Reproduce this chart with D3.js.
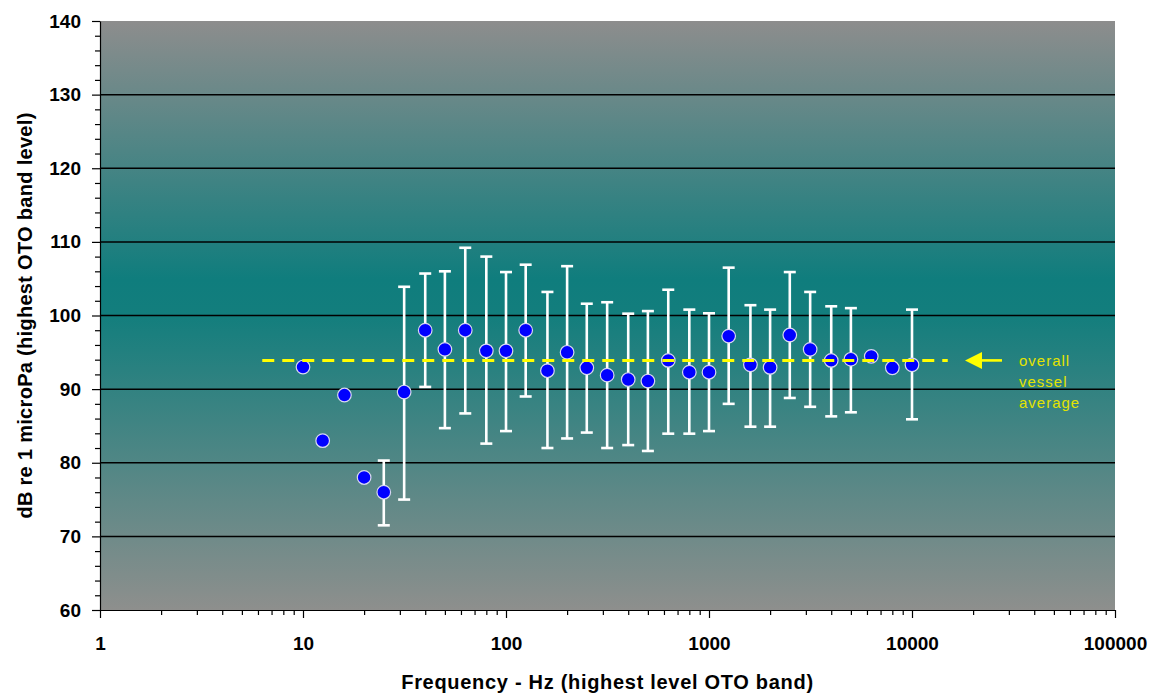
<!DOCTYPE html>
<html>
<head>
<meta charset="utf-8">
<script src="https://cdn.jsdelivr.net/npm/d3@7"></script>
<style>
  html, body { margin: 0; padding: 0; background: #fff; }
  svg { display: block; }
  text { font-family: Arial, "Liberation Sans", sans-serif; }
</style>
</head>
<body>
<svg id="chart" width="1153" height="697"></svg>
<script>
// ---- data ----
const frequencies = [10, 12.5, 16, 20, 25, 31.5, 40, 50, 63, 80, 100, 125, 160, 200, 250, 315, 400, 500, 630, 800, 1000, 1250, 1600, 2000, 2500, 3150, 4000, 5000, 6300, 8000, 10000];
const meanLevels  = [93.0, 83.0, 89.2, 78.0, 76.0, 89.6, 98.0, 95.4, 98.0, 95.2, 95.2, 98.0, 92.5, 95.0, 92.9, 91.9, 91.3, 91.1, 93.9, 92.3, 92.3, 97.2, 93.3, 92.95, 97.35, 95.4, 93.9, 94.05, 94.45, 92.9, 93.3];
const upperLevels = [null, null, null, null, 80.3, 103.9, 105.7, 106.0, 109.2, 108.0, 105.9, 106.9, 103.2, 106.7, 101.6, 101.8, 100.25, 100.6, 103.5, 100.8, 100.3, 106.5, 101.4, 100.8, 105.9, 103.2, 101.25, 101.0, null, null, 100.8];
const lowerLevels = [null, null, null, null, 71.5, 75.0, 90.3, 84.7, 86.7, 82.6, 84.3, 89.0, 82.0, 83.3, 84.1, 82.0, 82.4, 81.6, 83.95, 83.95, 84.3, 88.0, 84.9, 84.9, 88.8, 87.6, 86.3, 86.85, null, null, 85.9];
const averageLevel = 93.9;
const averageRange = [6.3, 15000];
const xTickLabels = ["1", "10", "100", "1000", "10000", "100000"];
const yTickValues = [60, 70, 80, 90, 100, 110, 120, 130, 140];
const annotationLines = ["overall", "vessel", "average"];
const xTitle = "Frequency - Hz (highest level OTO band)";
const yTitle = "dB re 1 microPa (highest OTO band level)";

// ---- layout ----
const svg = d3.select("#chart");
const L = 100, R = 1115, T = 21, B = 610;
const x = d3.scaleLog().domain([1, 100000]).range([L, R]);
const y = d3.scaleLinear().domain([60, 140]).range([B, T]);

// gradient background
const defs = svg.append("defs");
const grad = defs.append("linearGradient").attr("id", "bg").attr("x1", 0).attr("y1", 0).attr("x2", 0).attr("y2", 1);
grad.append("stop").attr("offset", "0%").attr("stop-color", "#8d8d8d");
grad.append("stop").attr("offset", "44%").attr("stop-color", "#0f7d7d");
grad.append("stop").attr("offset", "50%").attr("stop-color", "#137e7d");
grad.append("stop").attr("offset", "100%").attr("stop-color", "#8e8f8d");

svg.append("rect").attr("x", L).attr("y", T).attr("width", R - L).attr("height", B - T).attr("fill", "url(#bg)");

// gridlines
svg.append("g").selectAll("line").data(yTickValues.filter(v => v > 60 && v < 140)).join("line")
  .attr("x1", L).attr("x2", R).attr("y1", d => y(d)).attr("y2", d => y(d))
  .attr("stroke", "#000").attr("stroke-width", 1.5);

// axes
const minorX = [];
for (let e = 0; e < 5; e++) for (let m = 2; m <= 9; m++) minorX.push(m * Math.pow(10, e));
const majorX = xTickLabels.map(Number);

svg.append("g").attr("transform", `translate(0,${B})`)
  .call(d3.axisBottom(x).tickValues(minorX).tickSize(5).tickSizeOuter(0).tickFormat(""))
  .call(g => g.select(".domain").remove())
  .call(g => g.selectAll("line").attr("stroke", "#000").attr("stroke-width", 1.2));

const xAxisG = svg.append("g").attr("transform", `translate(0,${B})`)
  .call(d3.axisBottom(x).tickValues(majorX).tickSize(8).tickSizeOuter(0).tickFormat((d, i) => xTickLabels[i]));
xAxisG.select(".domain").attr("stroke", "#000").attr("stroke-width", 1.2);
xAxisG.selectAll("line").attr("stroke", "#000").attr("stroke-width", 1.2);
xAxisG.selectAll("text").attr("y", 27).attr("dy", "0.71em")
  .style("font-size", "19px").style("font-weight", "bold").attr("fill", "#000");

const minorY = d3.range(60, 141, 2).filter(v => v % 10 !== 0);
svg.append("g").attr("transform", `translate(${L},0)`)
  .call(d3.axisLeft(y).tickValues(minorY).tickSize(5).tickSizeOuter(0).tickFormat(""))
  .call(g => g.select(".domain").remove())
  .call(g => g.selectAll("line").attr("stroke", "#000").attr("stroke-width", 1.2));

const yAxisG = svg.append("g").attr("transform", `translate(${L},0)`)
  .call(d3.axisLeft(y).tickValues(yTickValues).tickSize(8).tickSizeOuter(0));
yAxisG.select(".domain").attr("stroke", "#000").attr("stroke-width", 1.2);
yAxisG.selectAll("line").attr("stroke", "#000").attr("stroke-width", 1.2);
yAxisG.selectAll("text").attr("x", -19)
  .style("font-size", "19px").style("font-weight", "bold").attr("fill", "#000");

// titles
svg.append("text").attr("x", (L + R) / 2).attr("y", 689).attr("text-anchor", "middle")
  .style("font-size", "20px").style("font-weight", "bold").style("letter-spacing", "0.7px").text(xTitle);
svg.append("text").attr("transform", `translate(32,${(T + B) / 2}) rotate(-90)`).attr("text-anchor", "middle")
  .style("font-size", "20px").style("font-weight", "bold").style("letter-spacing", "0.3px").text(yTitle);

// data
const pts = frequencies.map((f, i) => ({ f, m: meanLevels[i], hi: upperLevels[i], lo: lowerLevels[i] }));
const bars = pts.filter(d => d.hi != null);
const eb = svg.append("g").attr("stroke", "#fff").attr("stroke-width", 2.6).attr("fill", "none");
eb.selectAll("line.v").data(bars).join("line").attr("class", "v")
  .attr("x1", d => x(d.f)).attr("x2", d => x(d.f)).attr("y1", d => y(d.hi)).attr("y2", d => y(d.lo));
eb.selectAll("line.t").data(bars).join("line").attr("class", "t")
  .attr("x1", d => x(d.f) - 6).attr("x2", d => x(d.f) + 6).attr("y1", d => y(d.hi)).attr("y2", d => y(d.hi));
eb.selectAll("line.b").data(bars).join("line").attr("class", "b")
  .attr("x1", d => x(d.f) - 6).attr("x2", d => x(d.f) + 6).attr("y1", d => y(d.lo)).attr("y2", d => y(d.lo));

svg.append("g").selectAll("circle").data(pts).join("circle")
  .attr("cx", d => x(d.f)).attr("cy", d => y(d.m)).attr("r", 6.8)
  .attr("fill", "#0000ff").attr("stroke", "#d8d8f0").attr("stroke-width", 1.2);

// average line
svg.append("line").attr("x1", x(averageRange[0])).attr("x2", x(averageRange[1]))
  .attr("y1", y(averageLevel)).attr("y2", y(averageLevel))
  .attr("stroke", "#ffff00").attr("stroke-width", 3).attr("stroke-dasharray", "12,8");

// arrow + annotation
const ay = y(averageLevel);
svg.append("line").attr("x1", 978).attr("x2", 1002).attr("y1", ay).attr("y2", ay)
  .attr("stroke", "#ffff00").attr("stroke-width", 2.6);
svg.append("path").attr("d", `M965,${ay} L982,${ay - 8.5} L982,${ay + 8.5} Z`).attr("fill", "#ffff00");
svg.append("g").selectAll("text").data(annotationLines).join("text")
  .attr("x", 1019).attr("y", (d, i) => ay + 6 + i * 21)
  .style("font-size", "15px").style("letter-spacing", "1px").attr("fill", "#e4e400").text(d => d);
</script>
</body>
</html>
